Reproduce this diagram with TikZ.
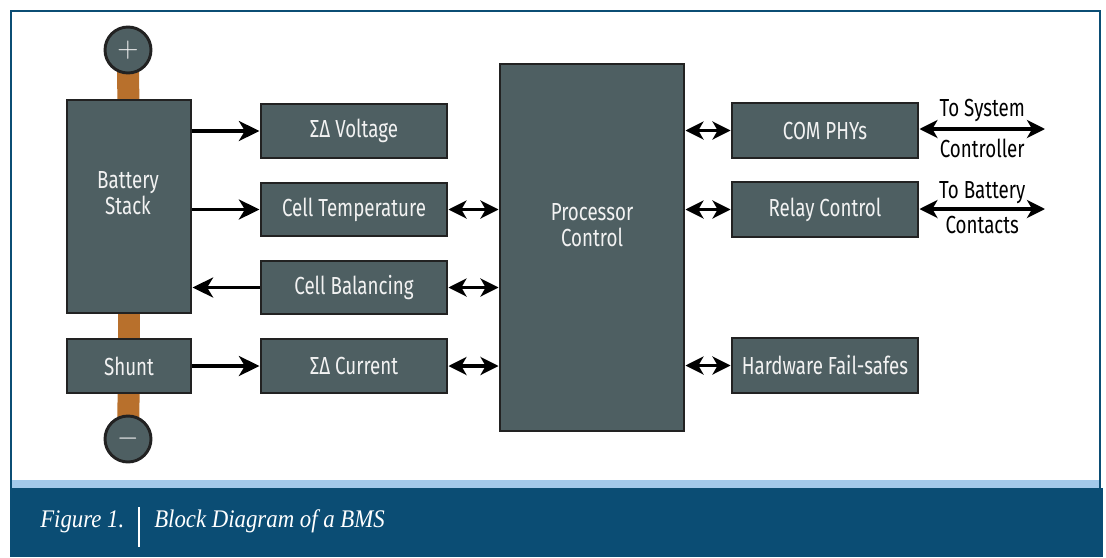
\documentclass[tikz,border=0pt]{standalone}
\usepackage{fontspec}
\usetikzlibrary{arrows.meta,backgrounds}
\newfontfamily\lblfont[FakeStretch=0.76]{Fira Sans}
\newfontfamily\capfont[FakeStretch=0.9]{Liberation Serif}
\definecolor{slate}{HTML}{4E5F62}
\definecolor{edge}{HTML}{222222}
\definecolor{copper}{HTML}{B8702C}
\definecolor{navy}{HTML}{0B4D74}
\definecolor{skyband}{HTML}{A3C9EA}
\definecolor{ltext}{HTML}{F2F2F2}
\tikzset{
  box/.style={draw=edge, fill=slate, line width=2.2pt, inner sep=0pt,
    text=ltext, font=\lblfont\fontsize{18.5}{21}\selectfont, align=center},
  lbl/.style={inner sep=0pt, text=ltext, font=\lblfont\fontsize{18.5}{21}\selectfont, align=center},
  term/.style={circle, draw=edge, fill=slate, line width=2.2pt, inner sep=0pt,
    minimum size=34.5pt, text=ltext, font=\fontsize{22}{22}\selectfont},
  arr/.style={line width=2.5pt, -{Stealth[length=15.5pt,width=15pt,inset=4.5pt]}},
  darr/.style={line width=2.5pt, {Stealth[length=13.5pt,width=13.5pt,inset=3.8pt]}-{Stealth[length=13.5pt,width=13.5pt,inset=3.8pt]}},
  bar/.style={copper, line width=16.5pt},
  ext/.style={font=\lblfont\fontsize{18.5}{21}\selectfont, text=black, inner sep=0pt}
}
\newcommand{\bx}[6]{\node[box, minimum width={(#4-#2)*0.75pt}, minimum height={(#5-#3)*0.75pt}] (#1) at ({(#2+#4)/2},{(#3+#5)/2}) {#6};}
\begin{document}
\begin{tikzpicture}[x=0.75pt,y=-0.75pt]
\useasboundingbox (0,0) rectangle (1106,557);
% frame
\fill[navy] (10,488) rectangle (1103,557);
\fill[skyband] (11,480) rectangle (1100,488);
\draw[navy, line width=2pt] (11,488) -- (11,11) -- (1100,11) -- (1100,488);
\node[anchor=base west, text=white, font=\capfont\itshape\fontsize{19}{19}\selectfont, inner sep=0pt] (fig) at (40,527) {Figure 1.};
\draw[white, line width=0.8pt] (139,507) -- (139,547);
\node[anchor=base west, text=white, font=\capfont\itshape\fontsize{19}{19}\selectfont, inner sep=0pt] (cap) at (154,527) {Block Diagram of a BMS};
% blocks
\bx{bat}{67}{100}{191}{313}{}
\bx{shunt}{67}{339}{191}{393}{Shunt}
\bx{volt}{261}{104}{447}{158}{ΣΔ Voltage}
\bx{temp}{261}{183}{447}{236}{Cell Temperature}
\bx{bal}{261}{261}{447}{314}{Cell Balancing}
\bx{cur}{261}{339}{447}{393}{ΣΔ Current}
\bx{proc}{500}{64}{684}{431}{}
\bx{com}{732}{103}{918}{158}{COM PHYs}
\bx{relay}{732}{182}{918}{237}{Relay Control}
\bx{hw}{732}{338}{918}{393}{Hardware Fail-safes}
\node[lbl] (battxt) at (128,193) {Battery\\[-2pt]Stack};
\node[lbl] (proctxt) at (592,225) {Processor\\[-2pt]Control};
% terminals
\node[term] (plus) at (128,50) {\raisebox{-1pt}{+}};
\node[term] (minus) at (128,439) {\raisebox{-1pt}{\(-\)}};
\begin{scope}[on background layer]
\draw[bar] (plus.center) -- (bat.center);
\draw[bar] (bat.center) -- (shunt.center);
\draw[bar] (shunt.center) -- (minus.center);
\end{scope}
% arrows
\draw[arr] (volt.west -| bat.east) -- (volt.west);
\draw[arr] (temp.west -| bat.east) -- (temp.west);
\draw[arr] (bal.west) -- (bal.west -| bat.east);
\draw[arr] (shunt.east) -- (cur.west);
\draw[darr] (temp.east) -- (temp.east -| proc.west);
\draw[darr] (bal.east) -- (bal.east -| proc.west);
\draw[darr] (cur.east) -- (cur.east -| proc.west);
\draw[darr] (com.west -| proc.east) -- (com.west);
\draw[darr] (relay.west -| proc.east) -- (relay.west);
\draw[darr] (hw.west -| proc.east) -- (hw.west);
\coordinate (sys) at (1045,129);
\coordinate (cont) at (1045,209);
\draw[darr] (com.east |- sys) -- (sys) node[midway, above=4pt, ext] {To System} node[midway, below=6pt, ext] {Controller};
\draw[darr] (relay.east |- cont) -- (cont) node[midway, above=3pt, ext] {To Battery} node[midway, below=4pt, ext] {Contacts};
\end{tikzpicture}
\end{document}
